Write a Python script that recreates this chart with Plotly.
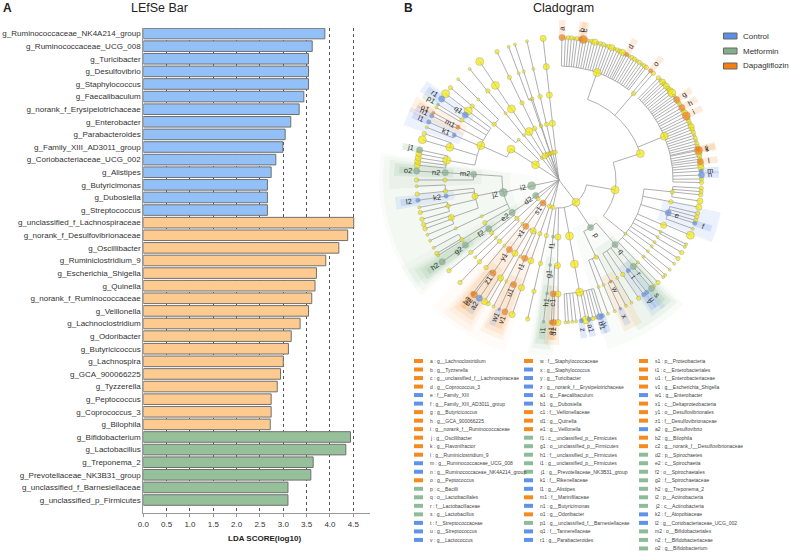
import math
import plotly.graph_objects as go

# ---------- LEfSe bar data ----------
control_genera = ["g_Ruminococcaceae_NK4A214_group", "g_Ruminococcaceae_UCG_008", "g_Turicibacter", "g_Desulfovibrio",
                  "g_Staphylococcus", "g_Faecalibaculum", "g_norank_f_Erysipelotrichaceae", "g_Enterobacter",
                  "g_Parabacteroides", "g_Family_XIII_AD3011_group", "g_Coriobacteriaceae_UCG_002", "g_Alistipes",
                  "g_Butyricimonas", "g_Dubosiella", "g_Streptococcus"]
control_lda = [3.89, 3.62, 3.54, 3.54, 3.54, 3.44, 3.34, 3.16, 3.04, 2.99, 2.84, 2.74, 2.66, 2.66, 2.66]
dapa_genera = ["g_unclassified_f_Lachnospiraceae", "g_norank_f_Desulfovibrionaceae", "g_Oscillibacter",
               "g_Ruminiclostridium_9", "g_Escherichia_Shigella", "g_Quinella", "g_norank_f_Ruminococcaceae",
               "g_Veillonella", "g_Lachnoclostridium", "g_Odoribacter", "g_Butyricicoccus", "g_Lachnospira",
               "g_GCA_900066225", "g_Tyzzerella", "g_Peptococcus", "g_Coprococcus_3", "g_Bilophila"]
dapa_lda = [4.51, 4.38, 4.19, 3.91, 3.71, 3.68, 3.61, 3.54, 3.36, 3.17, 3.11, 3.00, 2.94, 2.87, 2.74, 2.74, 2.72]
metf_genera = ["g_Bifidobacterium", "g_Lactobacillus", "g_Treponema_2", "g_Prevotellaceae_NK3B31_group",
               "g_unclassified_f_Barnesiellaceae", "g_unclassified_p_Firmicutes"]
metf_lda = [4.44, 4.34, 3.64, 3.59, 3.10, 3.10]

# ---------- Cladogram data: (id, parent, level, bearing, group, abundance, label) ----------
firmicutes_rows = [
    ("F", "root", 1, 142.7, "Y", 4, ""),
    ("F100", "F", 2, 100, "Y", 4, ""), ("p", "F", 2, 146.4, "G", 3, "p"),
    ("F169", "F", 2, 169.4, "Y", 4, ""), ("F181", "F", 2, 181, "Y", 3, ""), ("f1", "F", 2, 186, "G", 1, "f1"),
    ("C72", "F100", 3, 72, "Y", 4, ""), ("C129", "F100", 3, 129, "Y", 1, ""),
    ("fa", "C72", 4, 19.5, "Y", 4, ""), ("fo", "C72", 4, 40.8, "Y", 2, ""), ("fg", "C72", 4, 67.4, "Y", 4, ""),
    ("o", "fo", 5, 40, "O", 2, "o"), ("lo2", "fo", 5, 41.5, "Y", 2, ""),
    ("q96", "C129", 4, 96, "Y", 2, ""), ("q101", "C129", 4, 101, "Y", 2, ""), ("e", "C129", 4, 106.7, "B", 3, "e"),
    ("q113", "C129", 4, 113.4, "Y", 3, ""), ("q117", "C129", 4, 117, "Y", 1, ""), ("q120", "C129", 4, 120, "Y", 1, ""),
    ("q123", "C129", 4, 123, "Y", 1, ""), ("q125", "C129", 4, 125.5, "Y", 1, ""), ("q128", "C129", 4, 128.7, "Y", 1, ""),
    ("q132", "C129", 4, 132.2, "Y", 1, ""), ("q136", "C129", 4, 136.3, "Y", 1, ""),
    ("a93", "q96", 5, 93.3, "Y", 2, ""), ("a94", "q96", 5, 94.7, "Y", 2, ""), ("a96", "q96", 5, 96, "Y", 2, ""),
    ("a98", "q96", 5, 98.5, "Y", 3, ""), ("a101", "q101", 5, 101, "Y", 3, ""),
    ("a103", "e", 5, 103.5, "Y", 2, ""), ("a105", "e", 5, 105, "Y", 2, ""), ("a106", "e", 5, 106.5, "Y", 2, ""),
    ("f", "e", 5, 107.7, "B", 2, "f"), ("a110", "e", 5, 110, "Y", 1, ""), ("a112", "q113", 5, 112.8, "Y", 4, ""),
    ("a116", "q117", 5, 116.8, "Y", 1, ""), ("a118", "q117", 5, 118, "Y", 1, ""), ("a120", "q120", 5, 120.6, "Y", 2, ""),
    ("a123", "q123", 5, 123.4, "Y", 2, ""), ("a126", "q125", 5, 126, "Y", 1, ""), ("a129", "q128", 5, 129, "Y", 1, ""),
    ("a131", "q132", 5, 131.8, "Y", 1, ""), ("a133", "q132", 5, 133, "Y", 1, ""), ("a136", "q136", 5, 136, "Y", 2, ""),
    ("a138", "q136", 5, 138, "Y", 1, ""),
    ("q", "p", 3, 139, "G", 3, "q"), ("C154", "p", 3, 154.3, "Y", 2, ""),
    ("r", "q", 4, 139.3, "G", 3, "r"), ("t", "q", 4, 142.6, "B", 2, "t"), ("q146", "q", 4, 146, "Y", 2, ""),
    ("q149", "q", 4, 149.2, "Y", 1, ""), ("s", "r", 5, 139.5, "G", 3, "s"), ("u", "t", 5, 142, "B", 2, "u"),
    ("v", "t", 5, 143.5, "B", 2, "v"), ("a146", "q146", 5, 146, "Y", 2, ""), ("a149", "q149", 5, 149.4, "Y", 1, ""),
    ("w", "C154", 4, 153, "O", 1, "w"), ("q157", "C154", 4, 157, "Y", 1, ""), ("q159", "C154", 4, 159.7, "Y", 1, ""),
    ("a152", "w", 5, 152, "Y", 1, ""), ("x", "w", 5, 154.5, "B", 1, "x"), ("a157", "q157", 5, 157, "Y", 1, ""),
    ("a159", "q159", 5, 159.9, "Y", 1, ""),
    ("C169", "F169", 3, 169.6, "Y", 4, ""), ("f169", "C169", 4, 169.6, "Y", 4, ""),
    ("y", "f169", 5, 162.3, "B", 2, "y"), ("b1", "f169", 5, 163.5, "B", 3, "b1"), ("a164", "f169", 5, 164.9, "Y", 1, ""),
    ("a166", "f169", 5, 166.2, "Y", 2, ""), ("a1", "f169", 5, 167.8, "B", 2, "a1"), ("a169", "f169", 5, 169.1, "Y", 4, ""),
    ("z", "f169", 5, 171, "B", 2, "z"), ("a173", "f169", 5, 173.1, "Y", 1, ""), ("a174", "f169", 5, 174.6, "Y", 1, ""),
    ("a176", "f169", 5, 176.2, "Y", 1, ""), ("a177", "f169", 5, 177.4, "Y", 1, ""),
    ("C181", "F181", 3, 181, "Y", 3, ""), ("f181", "C181", 4, 180.5, "Y", 3, ""), ("c1", "C181", 4, 182.9, "O", 3, "c1"),
    ("a180", "f181", 5, 180.4, "Y", 3, ""), ("d1", "c1", 5, 182.2, "O", 3, "d1"), ("e1", "c1", 5, 183.1, "O", 2, "e1"),
    ("g1", "f1", 3, 186, "G", 1, "g1"), ("h1", "g1", 4, 186, "G", 1, "h1"), ("i1", "h1", 5, 186.2, "G", 1, "i1"),
]
fan_a_bearing = [1.2, 2.6, 3.8, 5.0, 6.2, 7.3, 8.7, 9.8, 11.0, 12.2, 13.4, 14.6, 15.8, 17.0, 18.2, 19.4, 20.6, 21.8, 23.0,
                 24.2, 25.3, 26.5, 27.5, 28.4, 29.6, 30.8, 32.0, 33.2, 34.4, 35.6, 36.8, 37.8]
fan_a_abund = "31221223212312212312231212212122"
fan_a_marks = {1.2: ("O", 3, "a"), 8.7: ("O", 2, "b"), 9.8: ("O", 4, "c"), 28.4: ("O", 2, "d")}
fan_g_bearing = [44.2, 45.4, 46.6, 47.6, 48.8, 50.0, 51.2, 52.4, 53.6, 54.6, 55.7, 56.9, 58.1, 59.5, 60.7, 61.9, 63.3,
                 64.5, 65.7, 66.9, 68.1, 69.3, 70.5, 71.7, 72.9, 74.1, 75.3, 76.4, 77.5, 78.0, 79.3, 80.5, 81.6, 82.6,
                 83.8, 85.0, 86.4, 88.0, 89.6, 91.0]
fan_g_abund = "2132323411222323422232212122223223332322"
fan_g_marks = {55.7: ("O", 3, "g"), 59.5: ("O", 3, "h"), 63.3: ("O", 4, "i"), 77.5: ("O", 2, "j"), 78.0: ("O", 4, "k"),
               82.6: ("O", 3, "l"), 86.4: ("B", 2, "m"), 88.0: ("B", 3, "n")}
proteo_rows = [
    ("s1", "root", 1, 214.7, "O", 3, "s1"), ("P228", "root", 1, 228.5, "Y", 2, ""),
    ("P193", "root", 1, 192.7, "Y", 2, ""), ("P200", "root", 1, 200, "Y", 2, ""),
    ("x1", "s1", 2, 215.6, "O", 3, "x1"), ("G207", "s1", 2, 207, "Y", 3, ""), ("G220", "s1", 2, 220, "Y", 1, ""),
    ("L193", "P193", 2, 192.8, "Y", 2, ""), ("L199", "P200", 2, 199.5, "Y", 2, ""), ("L227", "P228", 2, 227.6, "Y", 2, ""),
    ("t1", "G207", 3, 203.6, "O", 3, "t1"), ("O206", "G207", 3, 206.7, "Y", 1, ""), ("O211", "G207", 3, 211, "Y", 3, ""),
    ("y1", "x1", 3, 215.5, "O", 3, "y1"), ("O219", "G220", 3, 219.7, "Y", 1, ""), ("O192", "L193", 3, 192.5, "Y", 2, ""),
    ("O199", "L199", 3, 199.2, "Y", 3, ""), ("O224", "L227", 3, 224.2, "Y", 2, ""), ("O227", "L227", 3, 227.6, "Y", 1, ""),
    ("O231", "L227", 3, 231.9, "Y", 2, ""),
    ("u1", "t1", 4, 203.5, "O", 3, "u1"), ("f207", "O206", 4, 207.5, "Y", 1, ""), ("f210", "O211", 4, 210.8, "Y", 3, ""),
    ("z1", "y1", 4, 215.4, "O", 3, "z1"), ("f219", "O219", 4, 219.8, "Y", 2, ""), ("f192", "O192", 4, 192.7, "Y", 2, ""),
    ("f199", "O199", 4, 199.2, "Y", 3, ""), ("f224", "O224", 4, 224.2, "Y", 2, ""), ("f227", "O227", 4, 227.3, "Y", 1, ""),
    ("f230", "O231", 4, 230.6, "Y", 2, ""),
    ("v1", "u1", 5, 202.3, "O", 3, "v1"), ("w1", "u1", 5, 204.8, "B", 1, "w1"), ("a207", "f207", 5, 207.4, "Y", 1, ""),
    ("a209", "f210", 5, 209.8, "Y", 2, ""), ("a211", "f210", 5, 211.5, "Y", 3, ""),
    ("a2", "z1", 5, 214, "B", 3, "a2"), ("c2", "z1", 5, 216.4, "O", 3, "c2"), ("b2", "z1", 5, 217.2, "O", 2, "b2"),
    ("a192", "f192", 5, 192.7, "Y", 2, ""), ("a199", "f199", 5, 199.2, "Y", 3, ""), ("a224", "f224", 5, 224, "Y", 2, ""),
    ("a230", "f230", 5, 230.5, "Y", 2, ""),
]
spiro_rows = [
    ("d2", "root", 1, 236.4, "G", 3, "d2"), ("e2", "d2", 2, 235.3, "G", 3, "e2"), ("f2", "e2", 3, 235.3, "G", 3, "f2"),
    ("g2", "f2", 4, 235.2, "G", 3, "g2"), ("h2", "g2", 5, 235, "G", 3, "h2"),
]
actino_rows = [
    ("i2", "root", 1, 258, "G", 4, "i2"), ("j2", "i2", 2, 257.4, "G", 4, "j2"),
    ("m2", "j2", 3, 273.8, "G", 3, "m2"), ("O259", "j2", 3, 259.1, "Y", 3, ""), ("O244", "j2", 3, 244.9, "Y", 1, ""),
    ("O240", "j2", 3, 240, "Y", 2, ""),
    ("n2", "m2", 4, 273.7, "G", 3, "n2"), ("f270", "m2", 4, 270, "Y", 2, ""), ("o2", "n2", 5, 273.6, "G", 3, "o2"),
    ("a270", "f270", 5, 270, "Y", 2, ""),
    ("f264", "O259", 4, 264.4, "Y", 2, ""), ("k2", "O259", 4, 261.9, "B", 2, "k2"), ("f256", "O259", 4, 256.8, "Y", 2, ""),
    ("f250", "O259", 4, 250.8, "Y", 3, ""), ("f245", "O244", 4, 244.9, "Y", 1, ""), ("f238", "O240", 4, 238.4, "Y", 2, ""),
    ("a267", "f264", 5, 267.5, "Y", 1, ""), ("a264", "f264", 5, 264.3, "Y", 2, ""), ("l2", "k2", 5, 261.8, "B", 2, "l2"),
    ("a259", "f256", 5, 258.9, "Y", 1, ""), ("a256", "f256", 5, 256.8, "Y", 2, ""), ("a254", "f256", 5, 254, "Y", 2, ""),
    ("a251", "f250", 5, 251.8, "Y", 2, ""), ("a250", "f250", 5, 250, "Y", 2, ""), ("a247", "f250", 5, 247.4, "Y", 1, ""),
    ("a244", "f245", 5, 244.8, "Y", 1, ""), ("a241", "f238", 5, 241.6, "Y", 1, ""), ("a239", "f238", 5, 239, "Y", 2, ""),
    ("a238", "f238", 5, 238, "Y", 1, ""),
]
bactero_rows = [
    ("B", "root", 1, 303, "Y", 4, ""), ("B2", "B", 2, 302.7, "Y", 4, ""), ("B315", "B", 2, 315, "Y", 1, ""),
    ("C293", "B2", 3, 293.8, "Y", 4, ""), ("C310", "B315", 3, 310.7, "Y", 2, ""),
    ("F280", "C293", 4, 280, "Y", 4, ""), ("F286", "C293", 4, 286.7, "Y", 4, ""), ("k1", "C293", 4, 293.2, "B", 2, "k1"),
    ("m1", "C293", 4, 297.6, "O", 2, "m1"), ("F301", "C293", 4, 301.7, "Y", 2, ""), ("q1", "C293", 4, 304.7, "B", 3, "q1"),
    ("F307", "C293", 4, 307.3, "Y", 4, ""), ("F310", "C310", 4, 310.4, "Y", 2, ""), ("F315", "C310", 4, 315, "Y", 1, ""),
    ("a276", "F280", 5, 276, "Y", 3, ""), ("a277", "F280", 5, 277.5, "Y", 3, ""), ("a279", "F280", 5, 279, "Y", 3, ""),
    ("a280", "F280", 5, 280.6, "Y", 3, ""), ("j1", "F280", 5, 282.2, "G", 3, "j1"),
    ("a286", "F286", 5, 286.4, "Y", 4, ""), ("a289", "F286", 5, 289, "Y", 2, ""), ("a291", "k1", 5, 291.7, "Y", 1, ""),
    ("l1", "k1", 5, 294, "B", 2, "l1"), ("n1", "m1", 5, 296.8, "B", 2, "n1"), ("o1", "m1", 5, 298.2, "O", 1, "o1"),
    ("a300", "F301", 5, 300.6, "Y", 1, ""), ("p1", "F301", 5, 302, "G", 1, "p1"), ("r1", "q1", 5, 304.6, "B", 3, "r1"),
    ("a307", "F307", 5, 307.3, "Y", 4, ""), ("a310", "F310", 5, 310.4, "Y", 2, ""), ("a315", "F315", 5, 315, "Y", 1, ""),
]
# single-line branches from the centre: one bearing for each ring, one abundance for each ring
chain_bearing = [(322, 322, 321.3, 321.4, 321.2), (329.7, 328.3, 326.2, 326.1, 326.2), (336, 334.7, 334.4, 334.2, 334.2),
                 (341, 341.3, 341, 339.3, 339.3), (342, 342, 342, 342, 342), (347, 347.4, 347.3, 347, 347),
                 (352, 353.3, 353.5, 353.6, 353.6)]
chain_abund = ["11121", "34444", "22222", "21111", "11111", "22211", "23333"]

# ---------- Cladogram legend ----------
legend_col1 = [("a", "g__Lachnoclostridium", "O"), ("b", "g__Tyzzerella", "O"), ("c", "g__unclassified_f__Lachnospiraceae", "O"),
               ("d", "g__Coprococcus_3", "O"), ("e", "f__Family_XIII", "B"), ("f", "g__Family_XIII_AD3011_group", "B"),
               ("g", "g__Butyricicoccus", "O"), ("h", "g__GCA_900066225", "O"), ("i", "g__norank_f__Ruminococcaceae", "O"),
               ("j", "g__Oscillibacter", "O"), ("k", "g__Flavonifractor", "O"), ("l", "g__Ruminiclostridium_9", "O"),
               ("m", "g__Ruminococcaceae_UCG_008", "B"), ("n", "g__Ruminococcaceae_NK4A214_group", "B"),
               ("o", "g__Peptococcus", "O"), ("p", "c__Bacilli", "G"), ("q", "o__Lactobacillales", "G"),
               ("r", "f__Lactobacillaceae", "G"), ("s", "g__Lactobacillus", "G"), ("t", "f__Streptococcaceae", "B"),
               ("u", "g__Streptococcus", "B"), ("v", "g__Lactococcus", "B")]
legend_col2 = [("w", "f__Staphylococcaceae", "O"), ("x", "g__Staphylococcus", "B"), ("y", "g__Turicibacter", "B"),
               ("z", "g__norank_f__Erysipelotrichaceae", "B"), ("a1", "g__Faecalibaculum", "B"), ("b1", "g__Dubosiella", "B"),
               ("c1", "f__Veillonellaceae", "O"), ("d1", "g__Quinella", "O"), ("e1", "g__Veillonella", "O"),
               ("f1", "c__unclassified_p__Firmicutes", "G"), ("g1", "o__unclassified_p__Firmicutes", "G"),
               ("h1", "f__unclassified_p__Firmicutes", "G"), ("i1", "g__unclassified_p__Firmicutes", "G"),
               ("j1", "g__Prevotellaceae_NK3B31_group", "G"), ("k1", "f__Rikenellaceae", "B"), ("l1", "g__Alistipes", "B"),
               ("m1", "f__Marinifilaceae", "O"), ("n1", "g__Butyricimonas", "B"), ("o1", "g__Odoribacter", "O"),
               ("p1", "g__unclassified_f__Barnesiellaceae", "G"), ("q1", "f__Tannerellaceae", "B"), ("r1", "g__Parabacteroides", "B")]
legend_col3 = [("s1", "p__Proteobacteria", "O"), ("t1", "c__Enterobacteriales", "O"), ("u1", "f__Enterobacteriaceae", "O"),
               ("v1", "g__Escherichia_Shigella", "O"), ("w1", "g__Enterobacter", "B"), ("x1", "c__Deltaproteobacteria", "O"),
               ("y1", "o__Desulfovibrionales", "O"), ("z1", "f__Desulfovibrionaceae", "O"), ("a2", "g__Desulfovibrio", "B"),
               ("b2", "g__Bilophila", "O"), ("c2", "g__norank_f__Desulfovibrionaceae", "O"), ("d2", "p__Spirochaetes", "G"),
               ("e2", "c__Spirochaetia", "G"), ("f2", "o__Spirochaetales", "G"), ("g2", "f__Spirochaetaceae", "G"),
               ("h2", "g__Treponema_2", "G"), ("i2", "p__Actinobacteria", "G"), ("j2", "c__Actinobacteria", "G"),
               ("k2", "f__Atopobiaceae", "B"), ("l2", "g__Coriobacteriaceae_UCG_002", "B"), ("m2", "o__Bifidobacteriales", "G"),
               ("n2", "f__Bifidobacteriaceae", "G"), ("o2", "g__Bifidobacterium", "G")]
group_names = ["Control", "Metformin", "Dapagliflozin"]
group_keys = ["B", "G", "O"]

# ---------- styles ----------
W, H = 789, 553
FONT = "Liberation Sans"
NODE_COL = {"Y": "#F4E800", "O": "#F57F0F", "B": "#5B90E6", "G": "#84AE8C"}
SWATCH = {"O": "#F58A1F", "B": "#5F93E8", "G": "#8FBC98"}
BAND = {"O": "245,150,60", "B": "90,140,240", "G": "110,170,120"}
RING = {0: 0, 1: 28, 2: 57, 3: 85.5, 4: 114, 5: 142.5}
SIZE = {1: 3, 2: 4.4, 3: 6.2, 4: 8}
OUTER = {1: 180, 2: 176, 3: 170, 4: 165, 5: 160}
PAD = {1: 5, 2: 4, 3: 3, 4: 2.2, 5: 1.2}
ALPHA = {1: 0.035, 2: 0.05, 3: 0.08, 4: 0.12, 5: 0.18}


def px(x):
    return x / W


def py(y):
    return 1 - y / H


# assemble the tree
rows = firmicutes_rows + proteo_rows + spiro_rows + actino_rows + bactero_rows
for i, b in enumerate(fan_a_bearing):
    g, a, lab = fan_a_marks.get(b, ("Y", int(fan_a_abund[i]), ""))
    rows.append((f"fa{i}", "fa", 5, b, g, a, lab))
for i, b in enumerate(fan_g_bearing):
    g, a, lab = fan_g_marks.get(b, ("Y", int(fan_g_abund[i]), ""))
    rows.append((f"fg{i}", "fg", 5, b, g, a, lab))
for i, (bs, ab) in enumerate(zip(chain_bearing, chain_abund)):
    par = "root"
    for lv in range(5):
        nid = f"ch{i}_{lv}"
        rows.append((nid, par, lv + 1, bs[lv], "Y", int(ab[lv]), ""))
        par = nid

node = {r[0]: dict(parent=r[1], level=r[2], b=r[3], g=r[4], a=r[5], label=r[6]) for r in rows}
node["root"] = dict(parent=None, level=0, b=0, g="Y", a=1, label="")
kids = {}
for k, v in node.items():
    if v["parent"]:
        kids.setdefault(v["parent"], []).append(k)


def xy(r, b):
    t = math.radians(b)
    return r * math.sin(t), r * math.cos(t)


def extent(k):
    lo = hi = node[k]["b"]
    for c in kids.get(k, []):
        a, z = extent(c)
        lo, hi = min(lo, a), max(hi, z)
    return lo, hi


fig = go.Figure()

# bars
for names, vals, col in [(control_genera, control_lda, "#94C0F8"), (dapa_genera, dapa_lda, "#FDCB8F"),
                         (metf_genera, metf_lda, "#95C09A")]:
    fig.add_trace(go.Bar(x=vals, y=names, orientation="h", marker=dict(color=col, line=dict(color="#707070", width=1)),
                         width=0.84, showlegend=False, xaxis="x", yaxis="y", hoverinfo="x+y"))

# wedges (outermost first)
labelled = sorted([k for k, v in node.items() if v["label"]], key=lambda k: node[k]["level"])
for k in labelled:
    v = node[k]
    lo, hi = extent(k)
    lo -= PAD[v["level"]]
    hi += PAD[v["level"]]
    r0 = RING[v["level"]] - 8 if v["level"] < 5 else RING[5] + 1
    r1 = OUTER[v["level"]]
    n = max(2, int((hi - lo) / 1.5) + 2)
    th = [lo + (hi - lo) * i / (n - 1) for i in range(n)]
    xs, ys = [], []
    for t in th:
        p = xy(r1, t)
        xs.append(p[0])
        ys.append(p[1])
    for t in reversed(th):
        p = xy(r0, t)
        xs.append(p[0])
        ys.append(p[1])
    xs.append(xs[0])
    ys.append(ys[0])
    fig.add_trace(go.Scatter(x=xs, y=ys, mode="lines", fill="toself", line=dict(width=0),
                             fillcolor=f"rgba({BAND[v['g']]},{ALPHA[v['level']]})", showlegend=False,
                             hoverinfo="skip", xaxis="x2", yaxis="y2"))

# edges
ex, ey = [], []
for k, v in node.items():
    if not v["parent"]:
        continue
    rp = RING[node[v["parent"]]["level"]]
    for r in (rp, RING[v["level"]]):
        p = xy(r, v["b"])
        ex.append(p[0])
        ey.append(p[1])
    ex.append(None)
    ey.append(None)
for k, cs in kids.items():
    if k == "root":
        continue
    bs = [node[c]["b"] for c in cs] + [node[k]["b"]]
    lo, hi = min(bs), max(bs)
    n = max(2, int((hi - lo) / 1.5) + 2)
    for i in range(n):
        p = xy(RING[node[k]["level"]], lo + (hi - lo) * i / (n - 1))
        ex.append(p[0])
        ey.append(p[1])
    ex.append(None)
    ey.append(None)
fig.add_trace(go.Scatter(x=ex, y=ey, mode="lines", line=dict(color="#9a9a9a", width=0.8), showlegend=False,
                         hoverinfo="skip", xaxis="x2", yaxis="y2"))

# nodes
ordered = [v for k, v in node.items() if k != "root"]
ordered.sort(key=lambda v: 0 if v["g"] == "Y" else 1)
pts = [xy(RING[v["level"]], v["b"]) for v in ordered]
fig.add_trace(go.Scatter(x=[p[0] for p in pts], y=[p[1] for p in pts], mode="markers", showlegend=False,
                         hoverinfo="skip", xaxis="x2", yaxis="y2",
                         marker=dict(color=[NODE_COL[v["g"]] for v in ordered], size=[SIZE[v["a"]] for v in ordered],
                                     line=dict(color="#8a8a8a", width=0.5))))

ann = []
# clade labels
for k in labelled:
    v = node[k]
    b = v["b"]
    lx, ly = xy(RING[v["level"]] + 9, b)
    angle = b - 90 if b <= 180 else b - 270
    ann.append(dict(x=lx, y=ly, xref="x2", yref="y2", text=v["label"], showarrow=False, textangle=angle,
                    font=dict(family=FONT, size=7.5, color="#333333"), xanchor="center", yanchor="middle"))

shapes = []
# bottom legend
for entries, sx, tx in [(legend_col1, 414, 428), (legend_col2, 524, 538), (legend_col3, 639, 653)]:
    for i, (lab, name, g) in enumerate(entries):
        yy = 361 + 8.52 * i
        shapes.append(dict(type="rect", xref="paper", yref="paper", x0=px(sx), x1=px(sx + 9), y0=py(yy + 2), y1=py(yy - 2),
                           fillcolor=SWATCH[g], line=dict(width=0)))
        ann.append(dict(x=px(tx), y=py(yy), xref="paper", yref="paper", text=f"{lab} : {name}", showarrow=False,
                        xanchor="left", yanchor="middle", font=dict(family=FONT, size=5, color="#444444")))
# top right legend
for i, (name, g) in enumerate(zip(group_names, group_keys)):
    yy = 36 + 15 * i
    shapes.append(dict(type="rect", xref="paper", yref="paper", x0=px(723.5), x1=px(737), y0=py(yy + 3), y1=py(yy - 3),
                       fillcolor=NODE_COL[g], line=dict(width=1, color="#666666")))
    ann.append(dict(x=px(741), y=py(yy), xref="paper", yref="paper", text=name, showarrow=False, xanchor="left",
                    yanchor="middle", font=dict(family=FONT, size=8, color="#333333")))
# panel titles
for txt, x, y, size, bold in [("A", 7, 8, 12, True), ("B", 408, 8, 12, True), ("LEfSe Bar", 159.5, 8, 12.5, False),
                              ("Cladogram", 563.5, 8, 12.5, False), ("LDA SCORE(log10)", 264, 538, 8, True)]:
    ann.append(dict(x=px(x), y=py(y), xref="paper", yref="paper", text=f"<b>{txt}</b>" if bold else txt, showarrow=False,
                    xanchor="center", yanchor="middle", font=dict(family=FONT, size=size, color="#222222")))

fig.update_layout(
    width=W, height=H, margin=dict(l=0, r=0, t=0, b=0), paper_bgcolor="white", plot_bgcolor="white", showlegend=False,
    barmode="overlay", annotations=ann, shapes=shapes, font=dict(family=FONT),
    xaxis=dict(domain=[px(143.3), px(370)], range=[0, 4.858], dtick=0.5, tick0=0, tickformat=".1f", showgrid=True,
               griddash="dot", gridcolor="#555555", gridwidth=0.8, zeroline=False, showline=True, linecolor="#999999",
               ticks="outside", ticklen=3, tickcolor="#999999", tickfont=dict(family=FONT, size=8, color="#333333"),
               anchor="y", automargin=False),
    yaxis=dict(domain=[py(513), py(28)], range=[38.03, -0.44], type="category",
               categoryorder="array", categoryarray=control_genera + dapa_genera + metf_genera, tickmode="array",
               tickvals=control_genera + dapa_genera + metf_genera, showgrid=False, zeroline=False, showline=True,
               linecolor="#999999", ticks="", tickfont=dict(family=FONT, size=8, color="#333333"), anchor="x",
               automargin=False),
    xaxis2=dict(domain=[px(375), px(755)], range=[-184, 196], visible=False, anchor="y2", fixedrange=True,
                automargin=False),
    yaxis2=dict(domain=[py(355), 1], range=[-175, 180], visible=False, anchor="x2", fixedrange=True,
                automargin=False),
)
fig.write_html("out.html", config={"displayModeBar": False},
               post_script="document.body.style.margin='0';document.documentElement.style.overflow='hidden';")
